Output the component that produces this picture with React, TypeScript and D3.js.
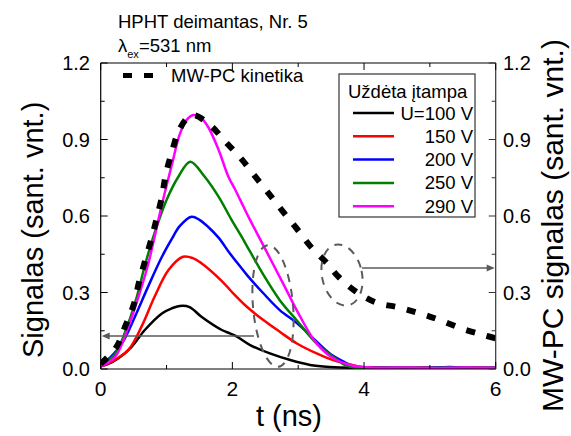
import React from 'react';
import * as d3 from 'd3';

type P = [number, number];

const xMajor = [0, 2, 4, 6];
const xMinor = [1, 3, 5];
const yMajor = [0, 0.3, 0.6, 0.9, 1.2];
const yMinor = [0.15, 0.45, 0.75, 1.05];
const yTickLabels = ['0.0', '0.3', '0.6', '0.9', '1.2'];

const u100: P[] = [[0,0.012],[0.1,0.018],[0.27,0.042],[0.47,0.087],[0.67,0.153],[0.93,0.218],[1.08,0.238],[1.2,0.247],[1.35,0.243],[1.53,0.205],[1.84,0.153],[1.96,0.14],[2.07,0.127],[2.27,0.094],[2.57,0.061],[2.88,0.035],[3.18,0.016],[3.48,0.008],[3.8,0.005],[4.1,0.007],[4.5,0.004],[4.9,0.006],[5.3,0.004],[5.7,0.006],[6,0.005]];
const u150: P[] = [[0,0.01],[0.17,0.029],[0.42,0.075],[0.62,0.166],[0.82,0.284],[1.03,0.388],[1.25,0.44],[1.4,0.435],[1.53,0.415],[1.84,0.345],[2.0,0.3],[2.22,0.244],[2.47,0.192],[2.72,0.146],[2.98,0.1],[3.28,0.061],[3.53,0.035],[3.73,0.022],[3.94,0.009],[4.2,0.004],[4.6,0.006],[5.0,0.004],[5.4,0.006],[5.8,0.004],[6,0.005]];
const u200: P[] = [[0,0.022],[0.07,0.029],[0.32,0.1],[0.52,0.205],[0.72,0.323],[0.93,0.44],[1.08,0.51],[1.2,0.56],[1.38,0.597],[1.5,0.585],[1.63,0.558],[1.79,0.515],[1.96,0.454],[2.14,0.395],[2.22,0.369],[2.47,0.297],[2.72,0.231],[2.98,0.18],[3.23,0.12],[3.48,0.061],[3.69,0.029],[3.84,0.009],[4.1,0.004],[4.5,0.006],[4.9,0.004],[5.3,0.008],[5.7,0.004],[6,0.005]];
const u250: P[] = [[0,0.015],[0.22,0.06],[0.42,0.18],[0.55,0.284],[0.67,0.405],[0.82,0.535],[1.0,0.663],[1.18,0.754],[1.36,0.813],[1.58,0.754],[1.79,0.676],[1.99,0.584],[2.14,0.519],[2.27,0.46],[2.47,0.37],[2.72,0.27],[2.98,0.19],[3.28,0.1],[3.53,0.048],[3.71,0.016],[3.85,0.005],[4.2,0.004],[4.6,0.006],[5.0,0.004],[5.4,0.005],[5.8,0.004],[6,0.005]];
const u290: P[] = [[0,0.01],[0.22,0.048],[0.42,0.166],[0.57,0.28],[0.72,0.41],[0.82,0.52],[0.93,0.645],[1.08,0.8],[1.2,0.92],[1.3,0.975],[1.41,0.996],[1.52,0.985],[1.63,0.95],[1.79,0.86],[1.94,0.754],[2.04,0.705],[2.17,0.636],[2.27,0.584],[2.52,0.46],[2.77,0.336],[3.03,0.205],[3.28,0.1],[3.53,0.042],[3.79,0.016],[3.99,0.008],[4.3,0.005],[4.7,0.006],[5.1,0.004],[5.5,0.006],[6,0.005]];
const mwpc: P[] = [[0,0.02],[0.24,0.087],[0.37,0.166],[0.5,0.251],[0.58,0.338],[0.67,0.42],[0.77,0.51],[0.85,0.59],[0.93,0.676],[0.99,0.765],[1.08,0.85],[1.18,0.93],[1.3,0.98],[1.41,0.996],[1.66,0.957],[1.9,0.89],[2.14,0.823],[2.34,0.757],[2.56,0.686],[2.76,0.62],[2.98,0.55],[3.19,0.48],[3.43,0.417],[3.61,0.362],[3.88,0.303],[4.19,0.26],[4.52,0.242],[4.85,0.218],[5.17,0.19],[5.49,0.158],[5.82,0.133],[6.0,0.12]];

const seriesData = [u100, u150, u200, u250, u290];
const seriesColors = ['#000000', '#ff0000', '#0000ff', '#008000', '#ff00ff'];
const seriesLabels = ['U=100 V', '150 V', '200 V', '250 V', '290 V'];

const FONT = '"Liberation Sans", Arial, sans-serif';
const L = 100.7, R = 495.7, T = 63, B = 369;

export default function App() {
  const x = d3.scaleLinear().domain([0, 6]).range([L, R]);
  const y = d3.scaleLinear().domain([0, 1.2]).range([B, T]);
  const line = d3.line<P>().x(d => x(d[0])).y(d => y(d[1])).curve(d3.curveCatmullRom.alpha(0.5));
  const gray = '#5a5a5a';
  return (
    <svg width={571} height={436} style={{ position: 'absolute', left: 0, top: 0, background: '#fff' }} fontFamily={FONT}>
      <defs>
        <clipPath id="pa"><rect x={L} y={T} width={R - L} height={B - T} /></clipPath>
      </defs>
      <text x={118} y={28} fontSize={18.5}>HPHT deimantas, Nr. 5</text>
      <text x={118} y={52} fontSize={18.5}>λ<tspan fontSize={11} dy={6}>ex</tspan><tspan dy={-6}>=531 nm</tspan></text>
      <g clipPath="url(#pa)">
        {seriesData.map((d, i) => (
          <path key={i} d={line(d) || ''} fill="none" stroke={seriesColors[i]} strokeWidth={2.5} strokeLinejoin="round" />
        ))}
        <path d={line(mwpc) || ''} fill="none" stroke="#000" strokeWidth={6} strokeDasharray="9,12" />
      </g>
      <ellipse cx={273} cy={306} rx={20} ry={61} transform="rotate(-5 273 306)" fill="none" stroke={gray} strokeWidth={2} strokeDasharray="8,7" />
      <ellipse cx={342} cy={275} rx={20} ry={31} transform="rotate(-12 342 275)" fill="none" stroke={gray} strokeWidth={2} strokeDasharray="8,7" />
      <line x1={254} y1={336} x2={108} y2={336} stroke={gray} strokeWidth={1.5} />
      <polygon points={`${L + 1},336 ${L + 9},332.5 ${L + 9},339.5`} fill={gray} />
      <line x1={362} y1={268} x2={R - 7} y2={268} stroke={gray} strokeWidth={1.5} />
      <polygon points={`${R - 1},268 ${R - 9},264.5 ${R - 9},271.5`} fill={gray} />
      <line x1={L} y1={T} x2={L} y2={B} stroke="#000" strokeWidth={1.2} />
      <line x1={L} y1={B} x2={R} y2={B} stroke="#000" strokeWidth={1.2} />
      <line x1={L} y1={T} x2={R} y2={T} stroke="#000" strokeWidth={1.2} />
      <line x1={R} y1={T} x2={R} y2={B} stroke="#333" strokeWidth={1.2} />
      {xMajor.map(v => (
        <g key={'xm' + v}>
          <line x1={x(v)} x2={x(v)} y1={B} y2={B - 7} stroke="#000" />
          <line x1={x(v)} x2={x(v)} y1={T} y2={T + 7} stroke="#000" />
          <text x={x(v)} y={396} fontSize={21} textAnchor="middle">{v}</text>
        </g>
      ))}
      {xMinor.map(v => (
        <g key={'xn' + v}>
          <line x1={x(v)} x2={x(v)} y1={B} y2={B - 4} stroke="#000" />
          <line x1={x(v)} x2={x(v)} y1={T} y2={T + 4} stroke="#000" />
        </g>
      ))}
      {yMajor.map((v, i) => (
        <g key={'ym' + v}>
          <line x1={L} x2={L + 7} y1={y(v)} y2={y(v)} stroke="#000" />
          <line x1={R} x2={R - 7} y1={y(v)} y2={y(v)} stroke="#333" />
          <text x={90} y={y(v) + 7} fontSize={20} textAnchor="end">{yTickLabels[i]}</text>
          <text x={503} y={y(v) + 7} fontSize={20} textAnchor="start">{yTickLabels[i]}</text>
        </g>
      ))}
      {yMinor.map(v => (
        <g key={'yn' + v}>
          <line x1={L} x2={L + 4} y1={y(v)} y2={y(v)} stroke="#000" />
          <line x1={R} x2={R - 4} y1={y(v)} y2={y(v)} stroke="#333" />
        </g>
      ))}
      <text transform="translate(43,358) rotate(-90)" fontSize={29} textAnchor="start">Signalas (sant. vnt.)</text>
      <text transform="translate(563,412) rotate(-90)" fontSize={30} textAnchor="start">MW-PC signalas (sant. vnt.)</text>
      <text x={289} y={426} fontSize={29} textAnchor="middle">t (ns)</text>
      <line x1={123} x2={153} y1={75.5} y2={75.5} stroke="#000" strokeWidth={5} strokeDasharray="9,12" />
      <text x={171} y={82} fontSize={18.5}>MW-PC kinetika</text>
      <rect x={339} y={74} width={136} height={143} fill="#fff" stroke="#333" strokeWidth={1.2} />
      <text x={348} y={98} fontSize={18.5}>Uždėta įtampa</text>
      {seriesLabels.map((s, i) => (
        <g key={s}>
          <line x1={353} x2={394} y1={113 + i * 23.3} y2={113 + i * 23.3} stroke={seriesColors[i]} strokeWidth={2.5} />
          <text x={473} y={119.5 + i * 23.3} fontSize={18.5} textAnchor="end">{s}</text>
        </g>
      ))}
    </svg>
  );
}
